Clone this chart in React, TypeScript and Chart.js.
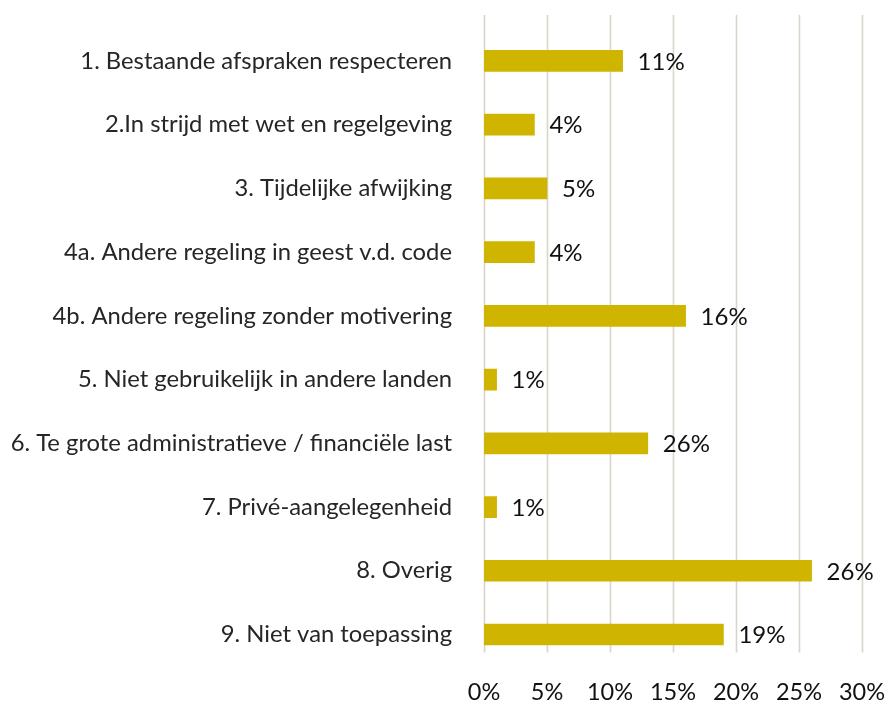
import React, { useEffect, useRef } from "react";
import { Chart, registerables } from "chart.js";

Chart.register(...registerables);

const categories = [
  "1. Bestaande afspraken respecteren",
  "2.In strijd met wet en regelgeving",
  "3. Tijdelijke afwijking",
  "4a. Andere regeling in geest v.d. code",
  "4b. Andere regeling zonder motivering",
  "5. Niet gebruikelijk in andere landen",
  "6. Te grote administratieve / financiële last",
  "7. Privé-aangelegenheid",
  "8. Overig",
  "9. Niet van toepassing",
];
const values = [11, 4, 5, 4, 16, 1, 13, 1, 26, 19];
const valueLabels = ["11%", "4%", "5%", "4%", "16%", "1%", "26%", "1%", "26%", "19%"];
const xMin = 0;
const xMax = 30;
const xStep = 5;

const FONT = "Lato, 'Noto Sans', sans-serif";

export default function App() {
  const ref = useRef<HTMLCanvasElement | null>(null);

  useEffect(() => {
    document.body.style.margin = "0";
    const canvas = ref.current;
    if (!canvas) return;

    const gridPlugin = {
      id: "customGrid",
      beforeDatasetsDraw(chart: any) {
        const { ctx, chartArea, scales } = chart;
        const x = scales.x;
        ctx.save();
        ctx.strokeStyle = "#d9d5ca";
        ctx.lineWidth = 1.6;
        x.ticks.forEach((t: any) => {
          const px = Math.round(x.getPixelForValue(t.value)) + 0.5;
          ctx.beginPath();
          ctx.moveTo(px, chartArea.top - 14);
          ctx.lineTo(px, chartArea.bottom - 14);
          ctx.stroke();
        });
        ctx.restore();
      },
    };

    const labelPlugin = {
      id: "valueLabels",
      afterDatasetsDraw(chart: any) {
        const { ctx } = chart;
        const meta = chart.getDatasetMeta(0);
        ctx.save();
        ctx.font = `24px ${FONT}`;
        ctx.fillStyle = "#111111";
        ctx.textAlign = "left";
        ctx.textBaseline = "middle";
        meta.data.forEach((bar: any, i: number) => {
          ctx.fillText(valueLabels[i], bar.x + 15, bar.y + 1);
        });
        ctx.restore();
      },
    };

    const chart = new Chart(canvas, {
      type: "bar",
      data: {
        labels: categories,
        datasets: [
          {
            data: values,
            backgroundColor: "#cfb400",
            borderWidth: 0,
            barThickness: 21,
          },
        ],
      },
      options: {
        indexAxis: "y",
        animation: false,
        responsive: false,
        maintainAspectRatio: false,
        layout: { padding: { top: 29, right: 31, left: 0, bottom: 0 } },
        plugins: {
          legend: { display: false },
          tooltip: { enabled: false },
        },
        scales: {
          x: {
            min: xMin,
            max: xMax,
            grid: { display: false, drawTicks: false },
            border: { display: false },
            ticks: {
              stepSize: xStep,
              padding: 12,
              color: "#111111",
              font: { family: FONT, size: 23.5 },
              callback: (v: any) => `${v}%`,
              maxRotation: 0,
              autoSkip: false,
            },
            afterFit: (s: any) => {
              s.height = 34.6;
              s.paddingLeft = 0;
              s.paddingRight = 0;
            },
          },
          y: {
            grid: { display: false, drawTicks: false },
            border: { display: false },
            ticks: {
              padding: 32,
              color: "#262626",
              font: { family: FONT, size: 23.8 },
              autoSkip: false,
            },
            afterFit: (s: any) => {
              s.width = 484;
              s.paddingTop = 0;
              s.paddingBottom = 0;
            },
          },
        },
      },
      plugins: [gridPlugin, labelPlugin],
    });

    return () => chart.destroy();
  }, []);

  return (
    <div style={{ position: "absolute", left: 0, top: 0, width: 893, height: 701 }}>
      <canvas ref={ref} width={893} height={701} style={{ width: 893, height: 701 }} />
    </div>
  );
}
